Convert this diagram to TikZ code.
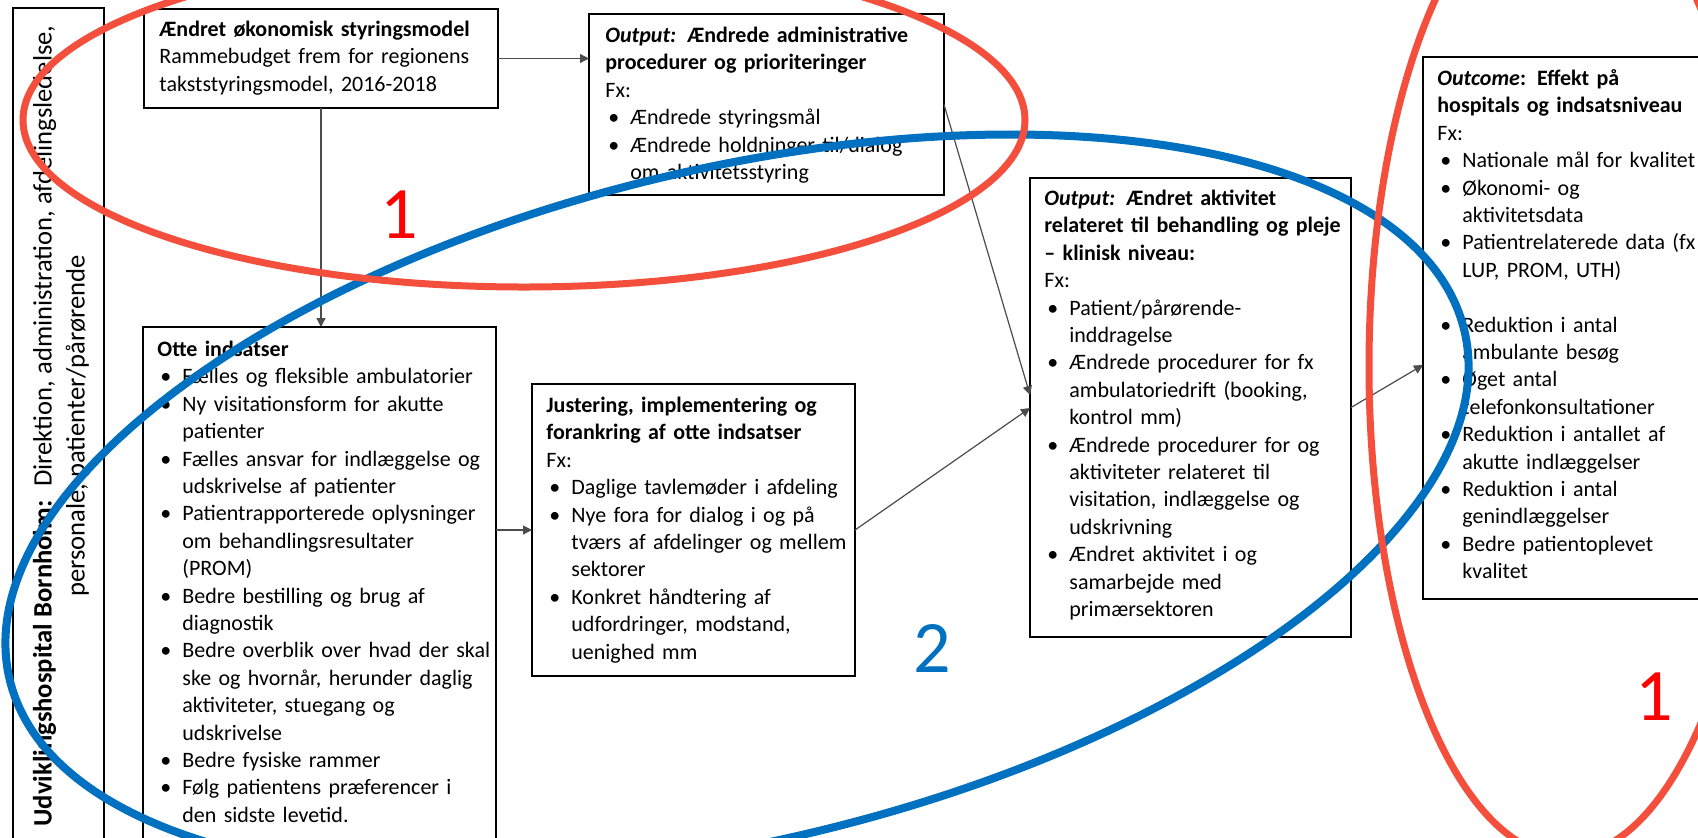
\documentclass[tikz,border=0pt]{standalone}
\usepackage{fontspec}
\setmainfont{Carlito}
\usetikzlibrary{arrows.meta,calc}
\definecolor{myred}{RGB}{244,78,60}
\definecolor{myblue}{RGB}{0,112,192}
\definecolor{numred}{RGB}{255,0,0}
\newcommand{\bitem}[1]{\par\noindent\hangindent=12.5pt\hangafter=1\makebox[12.5pt][l]{\hspace{1.5pt}\textbullet}#1\par}
\newcommand{\tstrut}{\rule{0pt}{10pt}}
\begin{document}
\begin{tikzpicture}[x=0.5pt,y=-0.5pt,
  box/.style={draw=black, line width=1.25pt, anchor=north west, inner sep=0pt, outer sep=0pt},
  txt/.style={anchor=north west, inner sep=0pt, text width=#1, align=left,
    font=\fontsize{11pt}{13.7pt}\selectfont},
  conn/.style={draw=black!70, line width=0.6pt, -{Triangle[length=4.5pt,width=4.5pt]}},
  bignum/.style={inner sep=0pt, font=\fontsize{37pt}{40pt}\selectfont}]
\useasboundingbox (0,0) rectangle (1698,837);
\fill[white] (0,0) rectangle (1698,837);
\clip (0,0) rectangle (1698,837);

% boxes
\node[box, minimum width=45.5pt, minimum height=446pt] (L) at (13,8) {};
\node[box, minimum width=177pt, minimum height=49.5pt] (A) at (144,9) {};
\node[box, minimum width=177.5pt, minimum height=90.5pt] (B) at (589,14) {};
\node[box, minimum width=176.5pt, minimum height=286.5pt] (C) at (143,327) {};
\node[box, minimum width=161.5pt, minimum height=146pt] (J) at (532,384) {};
\node[box, minimum width=160.5pt, minimum height=229.5pt] (D) at (1030,178) {};
\node[box, minimum width=168.5pt, minimum height=271pt] (E) at (1423,57) {};

% texts
\node[rotate=90, align=center, inner sep=0pt, font=\fontsize{13.3pt}{16.5pt}\selectfont] (Ltxt) at (61,426)
  {\textbf{Udviklingshospital Bornholm:}\hspace{7pt}Direktion, administration, afdelingsledelse,\\personale, patienter/pårørende};

\node[txt=190pt] (Atxt) at (159,16) {\tstrut\textbf{Ændret økonomisk styringsmodel}\\
Rammebudget frem for regionens\\
takststyringsmodel, 2016-2018};

\node[txt=190pt] (Btxt) at (605,22) {\tstrut\textbf{\textit{Output:} Ændrede administrative}\\
\textbf{procedurer og prioriteringer}\\
Fx:
\bitem{Ændrede styringsmål}
\bitem{Ændrede holdninger til/dialog\newline om aktivitetsstyring}};

\node[txt=190pt] (Ctxt) at (157,336) {\tstrut\textbf{Otte indsatser}
\bitem{Fælles og fleksible ambulatorier}
\bitem{Ny visitationsform for akutte\newline patienter}
\bitem{Fælles ansvar for indlæggelse og\newline udskrivelse af patienter}
\bitem{Patientrapporterede oplysninger\newline om behandlingsresultater\newline (PROM)}
\bitem{Bedre bestilling og brug af\newline diagnostik}
\bitem{Bedre overblik over hvad der skal\newline ske og hvornår, herunder daglig\newline aktiviteter, stuegang og\newline udskrivelse}
\bitem{Bedre fysiske rammer}
\bitem{Følg patientens præferencer i\newline den sidste levetid.}};

\node[txt=190pt] (Jtxt) at (546,392) {\tstrut\textbf{Justering, implementering og}\\
\textbf{forankring af otte indsatser}\\
Fx:
\bitem{Daglige tavlemøder i afdeling}
\bitem{Nye fora for dialog i og på\newline tværs af afdelinger og mellem\newline sektorer}
\bitem{Konkret håndtering af\newline udfordringer, modstand,\newline uenighed mm}};

\node[txt=190pt] (Dtxt) at (1044,185) {\tstrut\textbf{\textit{Output:} Ændret aktivitet}\\
\textbf{relateret til behandling og pleje}\\
\textbf{– klinisk niveau:}\\
Fx:
\bitem{Patient/pårørende-\newline inddragelse}
\bitem{Ændrede procedurer for fx\newline ambulatoriedrift (booking,\newline kontrol mm)}
\bitem{Ændrede procedurer for og\newline aktiviteter relateret til\newline visitation, indlæggelse og\newline udskrivning}
\bitem{Ændret aktivitet i og\newline samarbejde med\newline primærsektoren}};

\node[txt=190pt] (Etxt) at (1437,65) {\tstrut\textbf{\textit{Outcome}: Effekt på}\\
\textbf{hospitals og indsatsniveau}\\
Fx:
\bitem{Nationale mål for kvalitet}
\bitem{Økonomi- og\newline aktivitetsdata}
\bitem{Patientrelaterede data (fx\newline LUP, PROM, UTH)}
\vskip13.7pt
\bitem{Reduktion i antal\newline ambulante besøg}
\bitem{Øget antal\newline telefonkonsultationer}
\bitem{Reduktion i antallet af\newline akutte indlæggelser}
\bitem{Reduktion i antal\newline genindlæggelser}
\bitem{Bedre patientoplevet\newline kvalitet}};

% connectors
\coordinate (Din1) at ($(D.north west)+(0,217)$);
\coordinate (Din2) at ($(D.north west)+(0,230)$);
\coordinate (Ein) at ($(E.north west)+(0,308)$);
\draw[conn] (A.east) -- (A.east -| B.west);
\draw[conn] (A.south) -- (A.south |- C.north);
\draw[conn] (J.west -| C.east) -- (J.west);
\draw[conn] (B.east) -- (Din1);
\draw[conn] (J.east) -- (Din2);
\draw[conn] (D.east) -- (Ein);

% numbers
\node[bignum, text=numred] (n1a) at (399,215) {1};
\node[bignum, text=numred] (n1b) at (1654,697) {1};
\node[bignum, text=myblue] (n2) at (932,648) {2};

% ellipses
\draw[myblue, line width=4pt, rotate around={13.5:(737,505)}] (737,505) ellipse [x radius=374pt, y radius=168pt];
\draw[myred, line width=3.5pt] (524,120) ellipse [x radius=250.5pt, y radius=83.5pt];
\draw[myred, line width=3.5pt] (1566,366) ellipse [x radius=98.5pt, y radius=245pt];
\end{tikzpicture}
\end{document}
